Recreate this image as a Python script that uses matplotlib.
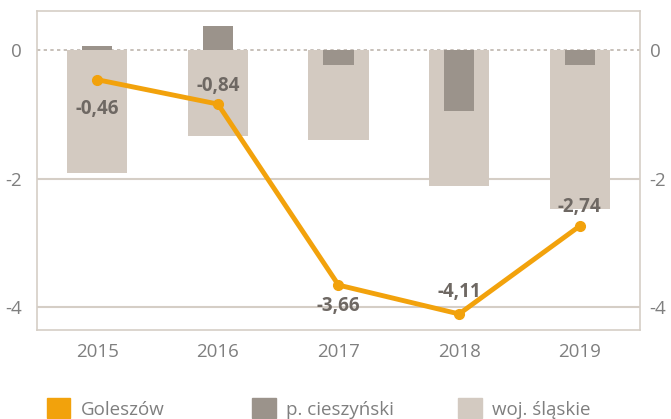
import numpy as np
import matplotlib.pyplot as plt
import matplotlib.transforms as mtransforms
from matplotlib.patches import Patch

plt.rcParams['font.family'] = ['Open Sans', 'DejaVu Sans']

# Dane
lata = ["2015", "2016", "2017", "2018", "2019"]
goleszow = np.array([-0.46, -0.84, -3.66, -4.11, -2.74])
powiat = np.array([0.06, 0.37, -0.23, -0.95, -0.23])
wojewodztwo = np.array([-1.91, -1.34, -1.40, -2.12, -2.47])
etykiety = ["-0,46", "-0,84", "-3,66", "-4,11", "-2,74"]
przesuniecie = [-21, 13, -15, 16, 14]  # pt, ujemne = pod punktem

c_orange = "#F2A20C"
c_dark = "#9B938B"
c_light = "#D3CAC1"
c_grid = "#D5CEC6"
c_text = "#7F7F7F"
c_label = "#6E6863"

fig = plt.figure(figsize=(6.71, 4.19), dpi=100)
ax = fig.add_axes([0.0551, 0.2124, 0.8987, 0.7613])

x = np.arange(len(lata))
ax.bar(x, wojewodztwo, width=0.5, color=c_light, zorder=2)
ax.bar(x, powiat, width=0.25, color=c_dark, zorder=3)
ax.plot(x, goleszow, color=c_orange, lw=3.5, marker="o", ms=7, zorder=4)

for xi, yi, t, p in zip(x, goleszow, etykiety, przesuniecie):
    ax.annotate(t, (xi, yi), xytext=(0, p), textcoords="offset points",
                ha="center", va="center", fontsize=13.5, fontweight="bold",
                color=c_label, zorder=5)

ax.set_xlim(-0.5, 4.5)
ax.set_ylim(-4.36, 0.61)
ax.set_yticks([0, -2, -4])
ax.set_yticklabels(["0", "-2", "-4"])
ax.set_xticks(x)
ax.set_xticklabels(lata)

ax.axhline(0, color="#BDB5AD", lw=1.2, ls=(0, (2, 2)), zorder=1)
for g in [-2, -4]:
    ax.axhline(g, color=c_grid, lw=1.5, zorder=1)

for s in ax.spines.values():
    s.set_color(c_grid)
    s.set_linewidth(1.2)

ax.tick_params(axis="both", length=0, labelsize=13.5, colors=c_text)
ax.tick_params(axis="x", pad=9)
ax.tick_params(axis="y", pad=11, labelright=True)

# prawe etykiety osi y bliżej ramki
off = mtransforms.ScaledTranslation(-4 / 72, 0, fig.dpi_scale_trans)
for t in ax.yaxis.get_major_ticks():
    t.label2.set_transform(t.label2.get_transform() + off)

nazwy = ["Goleszów", "p. cieszyński", "woj. śląskie"]
kolory = [c_orange, c_dark, c_light]
pozycje = [0.070, 0.376, 0.683]
for n, k, px in zip(nazwy, kolory, pozycje):
    fig.legend([Patch(color=k)], [n], loc="center left",
               bbox_to_anchor=(px, 0.025), frameon=False, fontsize=13.5,
               labelcolor=c_text, handlelength=1.25, handleheight=1.25,
               handletextpad=0.55, borderaxespad=0, borderpad=0)

fig.savefig("out.png", dpi=100)
